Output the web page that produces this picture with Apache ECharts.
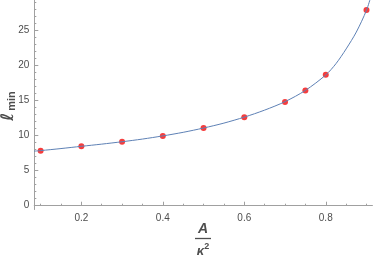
<!DOCTYPE html>
<html><head><meta charset="utf-8">
<script src="https://cdn.jsdelivr.net/npm/echarts@6/dist/echarts.min.js"></script>
<style>html,body{margin:0;padding:0;background:#fff}#c{width:374px;height:258px}</style>
</head><body><div id="c"></div>
<script>
// Sampled data points (red markers)
var pointX = [0.1, 0.2, 0.3, 0.4, 0.5, 0.6, 0.7, 0.75, 0.8, 0.9];
var pointY = [7.82, 8.45, 9.1, 9.91, 11.05, 12.57, 14.75, 16.4, 18.63, 27.84];
// Curve
var curveX = [0.084, 0.1, 0.15, 0.2, 0.25, 0.3, 0.35, 0.4, 0.45, 0.5, 0.55, 0.6, 0.65, 0.7, 0.75, 0.8, 0.825, 0.85, 0.875, 0.9, 0.91];
var curveY = [7.76, 7.84, 8.13, 8.45, 8.76, 9.1, 9.48, 9.93, 10.44, 11.05, 11.75, 12.6, 13.6, 14.8, 16.4, 18.6, 20.2, 22.3, 24.7, 27.8, 29.6];
// Tick labels
var xMajor = [0.2, 0.4, 0.6, 0.8];
var xMinor = [0.1, 0.15, 0.25, 0.3, 0.35, 0.45, 0.5, 0.55, 0.65, 0.7, 0.75, 0.85, 0.9];
var yMajor = [0, 5, 10, 15, 20, 25];
var yMinor = [];
for (var i = 0; i <= 29; i++) { if (i % 5 !== 0) yMinor.push(i); }

var axisColor = '#a0a0a0';
var textColor = '#4d4d4d';
var chart = echarts.init(document.getElementById('c'), null, {renderer: 'canvas'});
var xr = {min: 0.0845, max: 0.914};
var yr = {min: -0.51, max: 29.26};
function xAx(vals, len, labels) {
  return {type: 'value', min: xr.min, max: xr.max, position: 'bottom',
    axisLine: {show: true, lineStyle: {color: axisColor, width: 1}},
    splitLine: {show: false},
    axisTick: {show: true, customValues: vals, length: len, inside: true, lineStyle: {color: axisColor}},
    axisLabel: labels ? {show: true, customValues: vals, color: textColor, fontSize: 10, fontFamily: 'Liberation Sans', margin: 4,
      formatter: function (v) { return v.toFixed(1); }} : {show: false}};
}
function yAx(vals, len, labels) {
  return {type: 'value', min: yr.min, max: yr.max, position: 'left',
    axisLine: {show: true, lineStyle: {color: axisColor, width: 1}},
    splitLine: {show: false},
    axisTick: {show: true, customValues: vals, length: len, inside: true, lineStyle: {color: axisColor}},
    axisLabel: labels ? {show: true, customValues: vals, color: textColor, fontSize: 10, fontFamily: 'Liberation Sans', margin: 5} : {show: false}};
}
var curve = curveX.map(function (x, i) { return [x, curveY[i]]; });
var pts = pointX.map(function (x, i) { return [x, pointY[i]]; });
chart.setOption({
  animation: false,
  grid: {left: 34.3, right: 1.8, top: 0, bottom: 48.7, containLabel: false},
  xAxis: [xAx(xMajor, 4, true), xAx(xMinor, 2, false)],
  yAxis: [yAx(yMajor, 4, true), yAx(yMinor, 2, false)],
  series: [
    {type: 'line', data: curve, smooth: 0.3, showSymbol: false, clip: true,
      lineStyle: {color: '#5E81B5', width: 1}, xAxisIndex: 0, yAxisIndex: 0},
    {type: 'scatter', data: pts, symbolSize: 6, itemStyle: {color: '#f20d0d'}, xAxisIndex: 0, yAxisIndex: 0}
  ],
  graphic: [
    {type: 'text', x: 9, y: 106, rotation: Math.PI / 2,
      style: {text: '{l|ℓ}{s|min}', align: 'center', verticalAlign: 'middle',
        rich: {l: {fontSize: 17, fontWeight: 'bold', fontStyle: 'italic', fill: textColor, fontFamily: 'DejaVu Sans'},
               s: {fontSize: 11, fontWeight: 'bold', fill: textColor, fontFamily: 'Liberation Sans', padding: [5, 0, 0, 2]}}}},
    {type: 'text', x: 203, y: 229,
      style: {text: 'A', fontSize: 14, fontStyle: 'italic', fontWeight: 'bold', fill: textColor, fontFamily: 'Liberation Sans', align: 'center', verticalAlign: 'middle'}},
    {type: 'line', shape: {x1: 195, y1: 238.5, x2: 211, y2: 238.5}, style: {stroke: textColor, lineWidth: 1.3}},
    {type: 'text', x: 203, y: 251,
      style: {text: '{k|κ}{s|2}', align: 'center', verticalAlign: 'middle',
        rich: {k: {fontSize: 13, fontStyle: 'italic', fontWeight: 'bold', fill: textColor, fontFamily: 'Liberation Sans'},
               s: {fontSize: 9, fontWeight: 'bold', fill: textColor, fontFamily: 'Liberation Sans', padding: [0, 0, 9, 0]}}}}
  ]
});
</script></body></html>
